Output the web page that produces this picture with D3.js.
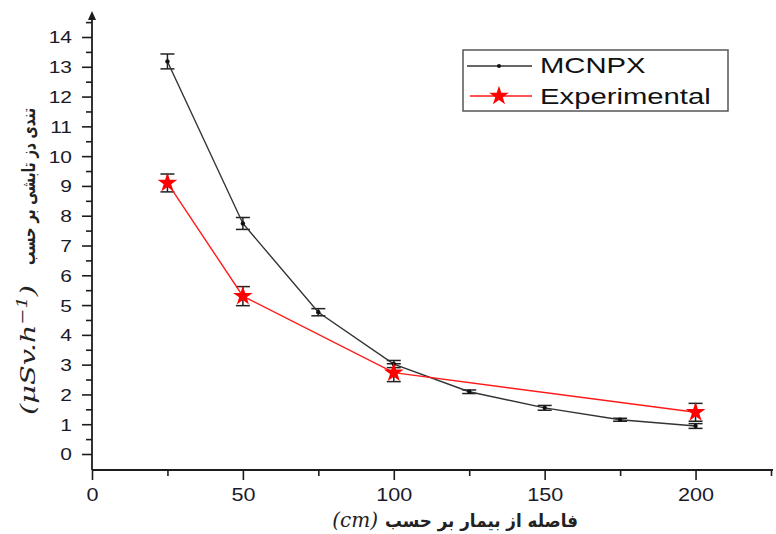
<!DOCTYPE html>
<html>
<head>
<meta charset="utf-8">
<script src="https://cdn.jsdelivr.net/npm/d3@7"></script>
<style>
  body { margin: 0; background: #fff; }
  svg { display: block; }
</style>
</head>
<body>
<svg id="chart"></svg>
<script>
//// DATA
const distances = [25, 50, 75, 100, 125, 150, 175, 200];
const mcnpxValues = [13.18, 7.74, 4.76, 3.02, 2.09, 1.55, 1.15, 0.94];
const mcnpxErrors = [0.25, 0.2, 0.12, 0.12, 0.06, 0.08, 0.05, 0.08];

const expDistances = [25, 50, 100, 200];
const expValues = [9.1, 5.3, 2.73, 1.4];
const expErrors = [0.3, 0.32, 0.3, 0.3];

const yTicks = d3.range(0, 15);
const yMinor = d3.range(0.5, 15, 1);
const xTicks = [0, 50, 100, 150, 200];
const xMinor = [25, 75, 125, 175, 225];

const legendNames = ["MCNPX", "Experimental"];

//// SETTINGS
const width = 776, height = 534;
const axisColor = "#1c1c1c";
const textStretch = 1.27;

const svg = d3.select("#chart").attr("width", width).attr("height", height);

const x = d3.scaleLinear().domain([0, 225]).range([92, 771]);
const y = d3.scaleLinear().domain([0, 14]).range([454, 37]);
const axisY = 470;

//// AXES
// y axis, major + minor ticks
const yAxis = svg.append("g").attr("transform", `translate(${x(0)},0)`)
    .call(d3.axisLeft(y).tickValues(yTicks).tickSize(10).tickFormat(d3.format("d")));
svg.append("g").attr("transform", `translate(${x(0)},0)`)
    .call(d3.axisLeft(y).tickValues(yMinor).tickSize(6).tickFormat(""))
    .select(".domain").remove();
yAxis.select(".domain").remove();

// x axis
const xAxis = svg.append("g").attr("transform", `translate(0,${axisY})`)
    .call(d3.axisBottom(x).tickValues(xTicks).tickSize(10).tickFormat(d3.format("d")));
svg.append("g").attr("transform", `translate(0,${axisY})`)
    .call(d3.axisBottom(x).tickValues(xMinor).tickSize(6).tickFormat(""))
    .select(".domain").remove();
xAxis.select(".domain").remove();

svg.selectAll(".tick line").attr("stroke", axisColor).attr("stroke-width", 1.6);

yAxis.selectAll(".tick text")
    .attr("x", null).attr("dy", "0.36em")
    .attr("transform", `translate(-20,0) scale(${textStretch},1)`)
    .style("font-family", "Liberation Sans, Arial, sans-serif")
    .style("font-size", "16.5px")
    .attr("fill", "#1a1a2a");

xAxis.selectAll(".tick text")
    .attr("y", null).attr("dy", null)
    .attr("transform", `translate(0,31) scale(1.2,1)`)
    .style("font-family", "Liberation Sans, Arial, sans-serif")
    .style("font-size", "18px")
    .attr("fill", "#1a1a2a");

// axis lines
svg.append("line")
    .attr("x1", x(0)).attr("x2", x(0)).attr("y1", axisY).attr("y2", 16)
    .attr("stroke", axisColor).attr("stroke-width", 1.8);
svg.append("path")
    .attr("d", `M${x(0) - 4},${20} L${x(0)},${11} L${x(0) + 4},${20} Z`)
    .attr("fill", axisColor);
svg.append("line")
    .attr("x1", x(0)).attr("x2", 773).attr("y1", axisY).attr("y2", axisY)
    .attr("stroke", axisColor).attr("stroke-width", 1.8);

//// SERIES
const line = d3.line().x(d => x(d[0])).y(d => y(d[1]));
const mcnpx = distances.map((d, i) => [d, mcnpxValues[i], mcnpxErrors[i]]);
const exper = expDistances.map((d, i) => [d, expValues[i], expErrors[i]]);

function drawErrorBars(data) {
    const g = svg.append("g").attr("stroke", "#222").attr("stroke-width", 1.5);
    data.forEach(d => {
        const top = y(d[1] + d[2]), bot = y(d[1] - d[2]), cx = x(d[0]);
        g.append("line").attr("x1", cx).attr("x2", cx).attr("y1", top).attr("y2", bot);
        g.append("line").attr("x1", cx - 7).attr("x2", cx + 7).attr("y1", top).attr("y2", top);
        g.append("line").attr("x1", cx - 7).attr("x2", cx + 7).attr("y1", bot).attr("y2", bot);
    });
}

drawErrorBars(mcnpx);
drawErrorBars(exper);

svg.append("path").datum(mcnpx)
    .attr("d", line).attr("fill", "none")
    .attr("stroke", "#333").attr("stroke-width", 1.4);
svg.selectAll(".dot").data(mcnpx).enter().append("circle")
    .attr("class", "dot")
    .attr("cx", d => x(d[0])).attr("cy", d => y(d[1])).attr("r", 2.2)
    .attr("fill", "#111");

const star = d3.symbol().type(d3.symbolStar).size(120);
svg.append("path").datum(exper)
    .attr("d", line).attr("fill", "none")
    .attr("stroke", "#ff1a1a").attr("stroke-width", 1.4);
svg.selectAll(".star").data(exper).enter().append("path")
    .attr("class", "star")
    .attr("d", star)
    .attr("transform", d => `translate(${x(d[0])},${y(d[1])})`)
    .attr("fill", "#ff0000");

//// LEGEND
const legend = svg.append("g");
legend.append("rect")
    .attr("x", 463).attr("y", 50).attr("width", 265).attr("height", 61)
    .attr("fill", "#fff").attr("stroke", "#555").attr("stroke-width", 1.5);
legend.append("line").attr("x1", 467).attr("x2", 532).attr("y1", 66).attr("y2", 66)
    .attr("stroke", "#333").attr("stroke-width", 1.4);
legend.append("circle").attr("cx", 499).attr("cy", 66).attr("r", 2).attr("fill", "#111");
legend.append("line").attr("x1", 470).attr("x2", 532).attr("y1", 96).attr("y2", 96)
    .attr("stroke", "#ff1a1a").attr("stroke-width", 1.4);
legend.append("path").attr("d", star).attr("transform", "translate(499,96)").attr("fill", "#ff0000");
legend.selectAll(".ltext").data(legendNames).enter().append("text")
    .attr("class", "ltext")
    .attr("transform", (d, i) => `translate(540,${73 + i * 31}) scale(1.33,1)`)
    .style("font-family", "Liberation Sans, Arial, sans-serif")
    .style("font-size", "22px")
    .attr("fill", "#111")
    .text(d => d);

//// AXIS TITLES
// rotated y title: persian part on top, unit below
const yTitle = svg.append("g").attr("transform", "translate(35,0) rotate(-90)");
yTitle.append("text")
    .attr("x", -265)
    .attr("direction", "ltr")
    .attr("textLength", 157).attr("lengthAdjust", "spacingAndGlyphs")
    .style("font-family", "DejaVu Sans, sans-serif")
    .style("font-size", "18px").style("font-weight", "bold")
    .attr("fill", "#222")
    .text("تندی دز تابشی بر حسب");
const yUnit = yTitle.append("text")
    .attr("x", -415)
    .attr("textLength", 130).attr("lengthAdjust", "spacingAndGlyphs")
    .style("font-family", "DejaVu Serif, serif")
    .style("font-style", "italic")
    .style("font-size", "21px")
    .attr("fill", "#222");
yUnit.append("tspan").text("(μSv.h");
yUnit.append("tspan").attr("dy", -8).style("font-size", "14px").text("−1");
yUnit.append("tspan").attr("dy", 8).text(")");

svg.append("text")
    .attr("x", 378).attr("y", 527).attr("text-anchor", "end")
    .style("font-family", "DejaVu Serif, serif")
    .style("font-style", "italic")
    .style("font-size", "20px")
    .attr("fill", "#222")
    .text("(cm)");
svg.append("text")
    .attr("x", 385).attr("y", 527)
    .attr("direction", "ltr")
    .attr("textLength", 193).attr("lengthAdjust", "spacingAndGlyphs")
    .style("font-family", "DejaVu Sans, sans-serif")
    .style("font-size", "18px").style("font-weight", "bold")
    .attr("fill", "#222")
    .text("فاصله از بیمار بر حسب");
</script>
</body>
</html>
